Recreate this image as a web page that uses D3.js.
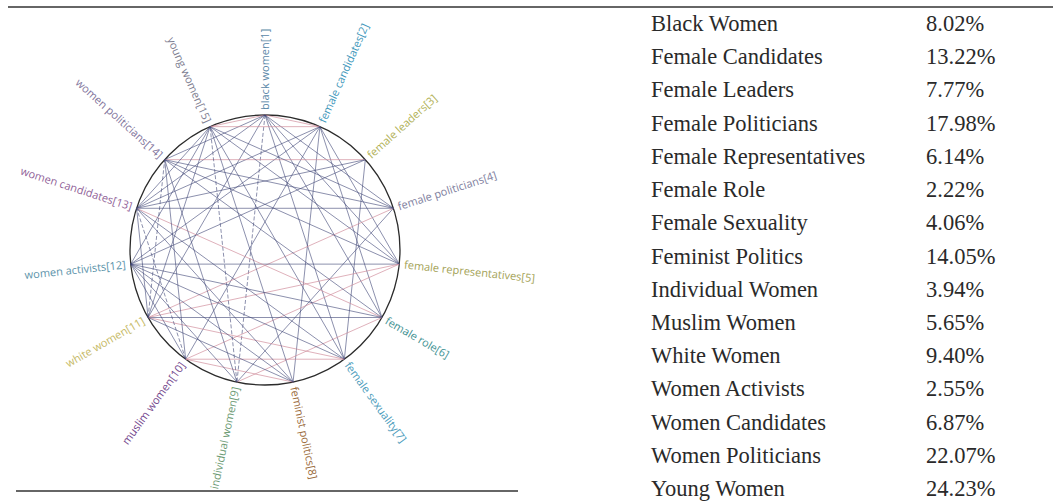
<!DOCTYPE html>
<html>
<head>
<meta charset="utf-8">
<script src="https://cdn.jsdelivr.net/npm/d3@7"></script>
<style>
  body { margin: 0; background: #fff; }
  svg { display: block; }
</style>
</head>
<body>
<div id="chart"></div>
<script>
// nodes of the co-occurrence circle, clockwise from the top
const nodeLabels = [
  'black women[1]', 'female candidates[2]', 'female leaders[3]', 'female politicians[4]',
  'female representatives[5]', 'female role[6]', 'female sexuality[7]', 'feminist politics[8]',
  'individual women[9]', 'muslim women[10]', 'white women[11]', 'women activists[12]',
  'women candidates[13]', 'women politicians[14]', 'young women[15]'
];

// links between nodes (1-based), kind: b = dark, p = pink, d = dashed dark
const links = [
  [1,2,'p'],[1,15,'p'],[1,4,'b'],[1,5,'b'],[1,6,'b'],[1,7,'b'],[1,9,'d'],[1,11,'b'],[1,13,'b'],[1,14,'b'],
  [2,15,'p'],[2,13,'b'],[2,12,'b'],[2,10,'b'],[2,8,'b'],[2,6,'b'],[2,5,'b'],
  [3,14,'p'],[3,12,'b'],[3,7,'b'],[3,13,'b'],
  [4,13,'b'],[4,15,'b'],[4,11,'p'],[4,9,'b'],[4,14,'b'],
  [5,12,'b'],[5,14,'b'],[5,10,'p'],[5,11,'p'],[5,15,'b'],
  [6,11,'b'],[6,13,'p'],[6,9,'p'],[6,14,'b'],[6,12,'b'],
  [7,10,'p'],[7,12,'b'],[7,13,'b'],[7,15,'b'],[7,11,'p'],
  [8,11,'b'],[8,13,'b'],[8,15,'b'],[8,10,'p'],[8,12,'b'],
  [9,12,'b'],[9,14,'b'],[9,15,'d'],
  [10,13,'d'],[10,14,'b'],[10,12,'b'],
  [11,14,'d'],[11,15,'b'],[11,13,'b'],
  [12,15,'b'],
  [13,15,'b']
];

// table on the right
const terms = [
  'Black Women', 'Female Candidates', 'Female Leaders', 'Female Politicians',
  'Female Representatives', 'Female Role', 'Female Sexuality', 'Feminist Politics',
  'Individual Women', 'Muslim Women', 'White Women', 'Women Activists',
  'Women Candidates', 'Women Politicians', 'Young Women'
];
const shares = ['8.02%', '13.22%', '7.77%', '17.98%', '6.14%', '2.22%', '4.06%', '14.05%',
  '3.94%', '5.65%', '9.40%', '2.55%', '6.87%', '22.07%', '24.23%'];

const labelColors = ['#5b88a8', '#3f98bb', '#b0b054', '#80809e', '#a3a256', '#3f9293', '#4b9bbb',
  '#9a6a3a', '#6c9a74', '#74488d', '#c6b964', '#5b93aa', '#905f98', '#80739b', '#7d7d90'];
const linkColors = { b: '#3e4576', p: '#cf8c9a', d: '#3e4576' };

const width = 1053, height = 503;
const cx = 265, cy = 250, radius = 135;

const svg = d3.select('#chart').append('svg')
  .attr('width', width)
  .attr('height', height);

// frame rules
svg.append('line').attr('x1', 8).attr('x2', width).attr('y1', 7).attr('y2', 7)
  .attr('stroke', '#333').attr('stroke-width', 1.5);
svg.append('line').attr('x1', 16).attr('x2', 518).attr('y1', 491).attr('y2', 491)
  .attr('stroke', '#333').attr('stroke-width', 1.5);

// angle scale, clockwise from 12 o'clock
const angle = d3.scaleLinear().domain([0, nodeLabels.length]).range([0, 2 * Math.PI]);
const pos = i => d3.pointRadial(angle(i), radius);

const g = svg.append('g').attr('transform', `translate(${cx},${cy})`);

g.append('circle')
  .attr('r', radius)
  .attr('fill', 'none')
  .attr('stroke', '#2b2b2b')
  .attr('stroke-width', 1.3);

g.selectAll('.link')
  .data(links)
  .join('line')
  .attr('class', 'link')
  .attr('x1', d => pos(d[0] - 1)[0])
  .attr('y1', d => pos(d[0] - 1)[1])
  .attr('x2', d => pos(d[1] - 1)[0])
  .attr('y2', d => pos(d[1] - 1)[1])
  .attr('stroke', d => linkColors[d[2]])
  .attr('stroke-width', 0.8)
  .attr('stroke-opacity', d => d[2] === 'p' ? 0.85 : 0.75)
  .attr('stroke-dasharray', d => d[2] === 'd' ? '4,2' : null);

// radial labels
g.selectAll('.lbl')
  .data(nodeLabels)
  .join('text')
  .attr('class', 'lbl')
  .attr('transform', (d, i) => {
    const deg = angle(i) * 180 / Math.PI;
    const [x, y] = pos(i);
    return deg < 180
      ? `translate(${x},${y}) rotate(${deg - 90})`
      : `translate(${x},${y}) rotate(${deg + 90})`;
  })
  .attr('x', (d, i) => angle(i) < Math.PI ? 5 : -5)
  .attr('dy', '0.35em')
  .attr('text-anchor', (d, i) => angle(i) < Math.PI ? 'start' : 'end')
  .attr('font-family', '"Open Sans", "Noto Sans", sans-serif')
  .attr('font-size', 11)
  .attr('fill', (d, i) => labelColors[i])
  .text(d => d);

// table
const row = d3.scaleLinear().domain([0, terms.length - 1]).range([31, 496]);
const tbl = svg.append('g')
  .attr('font-family', '"Liberation Serif", "DejaVu Serif", serif')
  .attr('font-size', 22.5)
  .attr('fill', '#2a2a2a');

tbl.selectAll('.term')
  .data(terms)
  .join('text')
  .attr('class', 'term')
  .attr('x', 651)
  .attr('y', (d, i) => row(i))
  .text(d => d);

tbl.selectAll('.share')
  .data(shares)
  .join('text')
  .attr('class', 'share')
  .attr('x', 926)
  .attr('y', (d, i) => row(i))
  .text(d => d);
</script>
</body>
</html>
